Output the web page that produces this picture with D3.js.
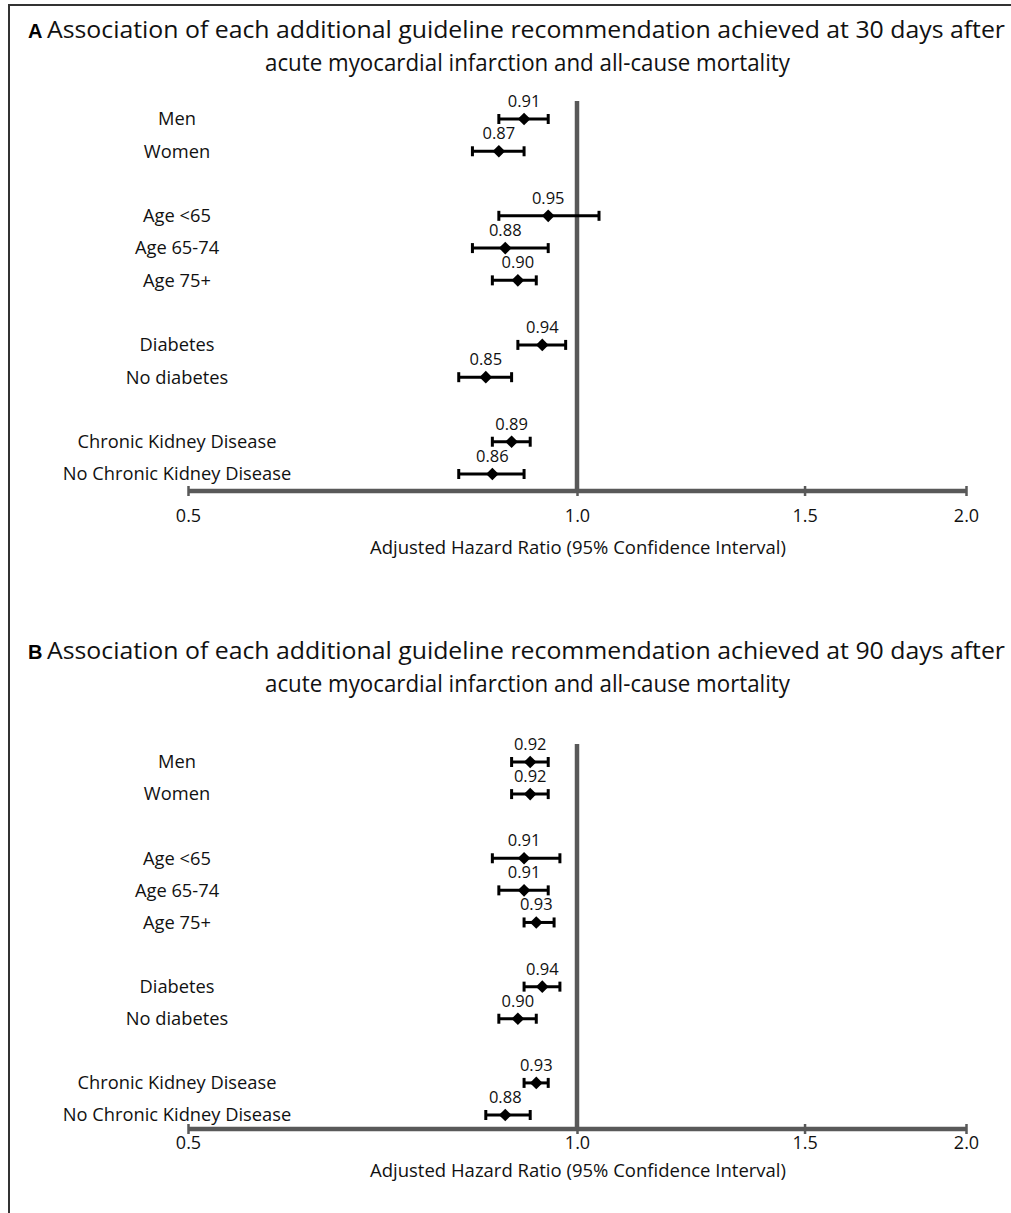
<!DOCTYPE html>
<html>
<head>
<meta charset="utf-8">
<script src="https://cdn.jsdelivr.net/npm/d3@7.9.0/dist/d3.min.js"></script>
<style>
  body { margin: 0; background: #fff; }
  svg { display: block; font-family: "Open Sans", Lato, sans-serif; }
</style>
</head>
<body>
<svg id="chart" width="1011" height="1213"></svg>
<script>
// subgroups, shown in blocks with a blank row between them
const groups = [
  ['Men', 'Women'],
  ['Age <65', 'Age 65-74', 'Age 75+'],
  ['Diabetes', 'No diabetes'],
  ['Chronic Kidney Disease', 'No Chronic Kidney Disease']
];

// 30 days: hazard ratio + 95% CI (bounds)
const hr30 = [0.91, 0.87, 0.95, 0.88, 0.90, 0.94, 0.85, 0.89, 0.86];
const lo30 = [0.87, 0.83, 0.87, 0.83, 0.86, 0.90, 0.81, 0.86, 0.81];
const hi30 = [0.95, 0.91, 1.04, 0.95, 0.93, 0.98, 0.89, 0.92, 0.91];

// 90 days
const hr90 = [0.92, 0.92, 0.91, 0.91, 0.93, 0.94, 0.90, 0.93, 0.88];
const lo90 = [0.89, 0.89, 0.86, 0.87, 0.91, 0.91, 0.87, 0.91, 0.85];
const hi90 = [0.95, 0.95, 0.97, 0.95, 0.96, 0.97, 0.93, 0.95, 0.92];

const tickValues = [0.5, 1.0, 1.5, 2.0];
const xTitle = 'Adjusted Hazard Ratio (95% Confidence Interval)';

const titleA = ['Association of each additional guideline recommendation achieved at 30 days after',
                'acute myocardial infarction and all-cause mortality'];
const titleB = ['Association of each additional guideline recommendation achieved at 90 days after',
                'acute myocardial infarction and all-cause mortality'];

const svg = d3.select('#chart');
const axisGray = '#595959';

// frame (right and bottom edges fall outside the picture)
svg.append('rect')
  .attr('x', 9).attr('y', 5)
  .attr('width', 1100).attr('height', 1300)
  .attr('fill', 'none')
  .attr('stroke', '#333')
  .attr('stroke-width', 2);

// turn the groups into rows with a slot index (one empty slot between groups)
let rows = [];
let slot = 0;
groups.forEach((g, gi) => {
  g.forEach((label) => {
    rows.push({ label: label, slot: slot });
    slot++;
  });
  if (gi < groups.length - 1) slot++;
});
const lastSlot = rows[rows.length - 1].slot;

const x = d3.scaleLog().domain([0.5, 2]).range([188, 966]);

function drawPanel(opts) {
  const { letter, title, hr, lo, hi, titleY, rowTop, rowBottom, axisY, tickY, xTitleY } = opts;
  const g = svg.append('g');

  const y = d3.scaleLinear().domain([0, lastSlot]).range([rowTop, rowBottom]);

  // title
  g.append('text')
    .attr('x', 28).attr('y', titleY)
    .attr('font-family', '"Liberation Sans", Arial, sans-serif')
    .attr('font-weight', 'bold')
    .attr('font-size', 20)
    .text(letter);
  g.append('text')
    .attr('x', 47).attr('y', titleY)
    .attr('font-size', 24.5)
    .attr('textLength', 958)
    .attr('lengthAdjust', 'spacingAndGlyphs')
    .attr('fill', '#111')
    .text(title[0]);
  g.append('text')
    .attr('x', 265).attr('y', titleY + 32.5)
    .attr('font-size', 24.5)
    .attr('textLength', 525)
    .attr('lengthAdjust', 'spacingAndGlyphs')
    .attr('fill', '#111')
    .text(title[1]);

  // reference line at HR = 1
  g.append('line')
    .attr('x1', x(1)).attr('x2', x(1))
    .attr('y1', y(0) - 18).attr('y2', axisY)
    .attr('stroke', axisGray)
    .attr('stroke-width', 4.5);

  // x axis
  const axis = d3.axisBottom(x)
    .tickValues(tickValues)
    .tickFormat(d3.format('.1f'))
    .tickSize(5)
    .tickPadding(tickY - axisY - 11);
  const ax = g.append('g')
    .attr('transform', `translate(0,${axisY})`)
    .call(axis);
  ax.select('.domain')
    .attr('d', `M${x(0.5)},0H${x(2)}`)
    .attr('stroke', axisGray)
    .attr('stroke-width', 4.5);
  ax.selectAll('.tick line')
    .attr('y1', -5)
    .attr('stroke', axisGray)
    .attr('stroke-width', 2.5);
  ax.selectAll('.tick text')
    .attr('font-family', '"Open Sans", sans-serif')
    .attr('font-size', 18)
    .attr('fill', '#111');

  g.append('text')
    .attr('x', 578).attr('y', xTitleY)
    .attr('text-anchor', 'middle')
    .attr('dy', '0.35em')
    .attr('font-size', 17.5)
    .attr('textLength', 416)
    .attr('lengthAdjust', 'spacingAndGlyphs')
    .attr('fill', '#111')
    .text(xTitle);

  // row labels
  g.selectAll('.row-label')
    .data(rows)
    .join('text')
    .attr('class', 'row-label')
    .attr('x', 177)
    .attr('y', (d) => y(d.slot))
    .attr('dy', '0.35em')
    .attr('text-anchor', 'middle')
    .attr('font-size', 18.3)
    .attr('fill', '#111')
    .text((d) => d.label);

  const pts = rows.map((r, i) => ({ slot: r.slot, hr: hr[i], lo: lo[i], hi: hi[i] }));

  const bar = g.selectAll('.ci')
    .data(pts)
    .join('g')
    .attr('class', 'ci')
    .attr('transform', (d) => `translate(0,${y(d.slot)})`);

  bar.append('line')
    .attr('x1', (d) => x(d.lo)).attr('x2', (d) => x(d.hi))
    .attr('stroke', '#000').attr('stroke-width', 3);
  bar.append('line')
    .attr('x1', (d) => x(d.lo)).attr('x2', (d) => x(d.lo))
    .attr('y1', -5).attr('y2', 5)
    .attr('stroke', '#000').attr('stroke-width', 3);
  bar.append('line')
    .attr('x1', (d) => x(d.hi)).attr('x2', (d) => x(d.hi))
    .attr('y1', -5).attr('y2', 5)
    .attr('stroke', '#000').attr('stroke-width', 3);
  bar.append('path')
    .attr('d', d3.symbol(d3.symbolSquare, 80)())
    .attr('transform', (d) => `translate(${x(d.hr)},0) rotate(45)`)
    .attr('fill', '#000');
  bar.append('text')
    .attr('x', (d) => x(d.hr))
    .attr('y', -12)
    .attr('text-anchor', 'middle')
    .attr('font-size', 16.5)
    .attr('fill', '#111')
    .text((d) => d3.format('.2f')(d.hr));
}

drawPanel({
  letter: 'A', title: titleA, hr: hr30, lo: lo30, hi: hi30,
  titleY: 38, rowTop: 119, rowBottom: 474, axisY: 491, tickY: 515, xTitleY: 548
});

drawPanel({
  letter: 'B', title: titleB, hr: hr90, lo: lo90, hi: hi90,
  titleY: 659, rowTop: 762, rowBottom: 1115, axisY: 1129, tickY: 1142, xTitleY: 1171
});
</script>
</body>
</html>
